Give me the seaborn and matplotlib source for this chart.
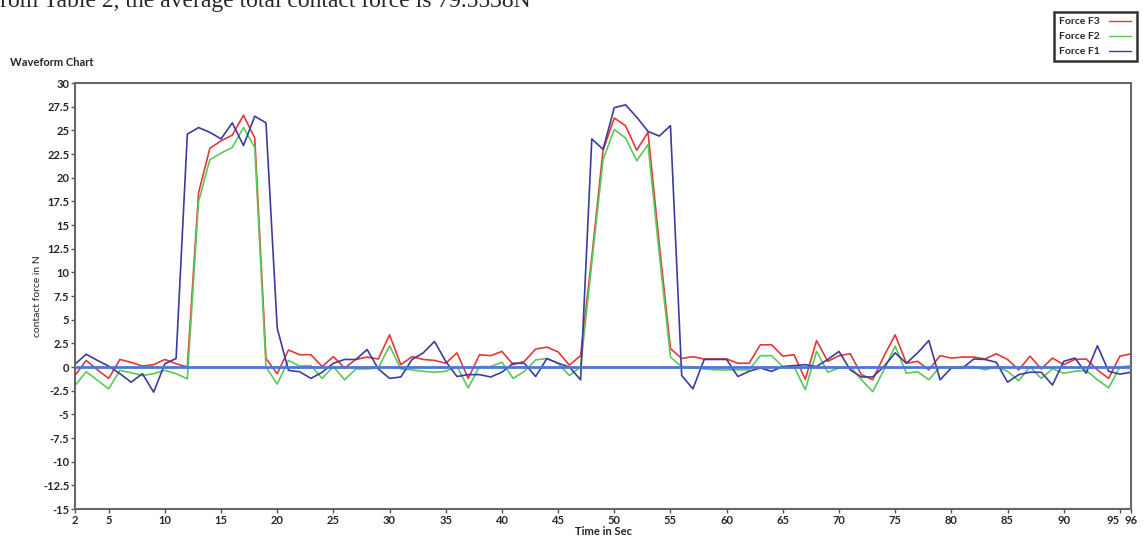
import numpy as np
import pandas as pd
import matplotlib.pyplot as plt
import seaborn as sns

# sample times (s)
time_sec = list(range(2, 97))

force_f3 = [-0.9, 0.7, -0.3, -1.2, 0.8, 0.5, 0.1, 0.25, 0.8, 0.35,
            0.0, 18.4, 23.1, 23.9, 24.5, 26.6, 24.2, 0.9, -0.7, 1.8,
            1.3, 1.3, 0.05, 1.1, -0.1, 0.8, 1.05, 0.85, 3.4, 0.25,
            1.1, 0.8, 0.7, 0.4, 1.5, -1.2, 1.3, 1.2, 1.65, 0.25,
            0.6, 1.9, 2.1, 1.6, 0.2, 1.2, 11.6, 22.9, 26.3, 25.5,
            22.9, 24.8, 13.0, 1.95, 0.9, 1.1, 0.85, 0.85, 0.85, 0.4,
            0.4, 2.35, 2.35, 1.15, 1.3, -1.3, 2.8, 0.6, 1.2, 1.4,
            -0.8, -1.35, 1.15, 3.4, 0.4, 0.6, -0.3, 1.2, 0.95, 1.05,
            1.05, 0.85, 1.4, 0.8, -0.3, 1.15, -0.2, 0.95, 0.25, 0.8,
            0.85, -0.3, -1.2, 1.15, 1.4]

force_f2 = [-1.95, -0.5, -1.4, -2.3, -0.35, -0.6, -0.9, -0.7, -0.35, -0.7,
            -1.25, 17.5, 21.9, 22.6, 23.2, 25.3, 23.2, 0.0, -1.8, 0.7,
            0.1, 0.15, -1.2, 0.05, -1.35, -0.2, -0.2, -0.1, 2.25, -0.2,
            -0.3, -0.45, -0.55, -0.45, 0.05, -2.2, 0.05, 0.05, 0.5, -1.2,
            -0.45, 0.75, 0.9, 0.4, -0.9, 0.0, 11.0, 21.9, 25.1, 24.2,
            21.8, 23.5, 12.0, 1.05, 0.05, -0.05, -0.2, -0.3, -0.3, -0.3,
            -0.3, 1.2, 1.2, 0.05, 0.05, -2.4, 1.65, -0.55, -0.1, 0.05,
            -1.35, -2.6, -0.3, 2.2, -0.65, -0.5, -1.35, 0.05, -0.1, 0.05,
            0.05, -0.3, 0.05, -0.45, -1.45, 0.05, -1.2, -0.2, -0.65, -0.45,
            -0.35, -1.35, -2.2, 0.0, 0.15]

force_f1 = [0.3, 1.35, 0.7, 0.1, -0.7, -1.6, -0.7, -2.65, 0.35, 0.9,
            24.6, 25.3, 24.8, 24.1, 25.8, 23.4, 26.5, 25.8, 4.1, -0.35,
            -0.5, -1.2, -0.55, 0.4, 0.8, 0.8, 1.85, -0.2, -1.2, -1.05,
            0.8, 1.5, 2.7, 0.6, -1.0, -0.8, -0.8, -1.05, -0.55, 0.4,
            0.4, -1.0, 0.9, 0.4, 0.0, -1.35, 24.1, 23.0, 27.4, 27.7,
            26.4, 24.9, 24.4, 25.5, -0.9, -2.3, 0.8, 0.8, 0.8, -1.0,
            -0.45, -0.1, -0.45, 0.05, 0.15, 0.25, 0.05, 0.8, 1.65, -0.3,
            -1.05, -1.05, 0.05, 1.5, 0.4, 1.5, 2.8, -1.35, -0.1, -0.1,
            0.85, 0.8, 0.5, -1.6, -0.8, -0.55, -0.55, -1.9, 0.6, 0.95,
            -0.65, 2.25, -0.45, -0.75, -0.55]

baseline = 0.0
y_ticks = [30, 27.5, 25, 22.5, 20, 17.5, 15, 12.5, 10, 7.5, 5, 2.5, 0,
           -2.5, -5, -7.5, -10, -12.5, -15]
x_ticks = [2, 5, 10, 15, 20, 25, 30, 35, 40, 45, 50, 55, 60, 65, 70, 75,
           80, 85, 90, 95, 96]

df = pd.DataFrame({
    "Time": time_sec * 3,
    "Force": force_f3 + force_f2 + force_f1,
    "Series": ["Force F3"] * len(time_sec) + ["Force F2"] * len(time_sec)
              + ["Force F1"] * len(time_sec),
})

sns.set_style("ticks")
plt.rcParams['font.family'] = ['Lato', 'DejaVu Sans']

fig = plt.figure(figsize=(11.43, 5.44), dpi=100)
ax = fig.add_axes([0.0656, 0.0643, 0.924, 0.783])

palette = {"Force F3": "#e23838", "Force F2": "#5cc85a", "Force F1": "#3a3d9c"}
sns.lineplot(data=df, x="Time", y="Force", hue="Series", palette=palette,
             linewidth=1.2, ax=ax, legend=False)
ax.axhline(baseline, color="#4a78d2", linewidth=2, zorder=5)

ax.set_xlim(2, 96)
ax.set_ylim(-15, 30)
ax.set_yticks(y_ticks)
ax.set_yticklabels([f"{v:g}" for v in y_ticks])
ax.set_xticks(x_ticks)
ax.tick_params(axis="both", direction="out", length=3, width=1, labelsize=8,
               pad=1, color="#555555")
for lab in ax.get_xticklabels() + ax.get_yticklabels():
    lab.set_fontweight("bold")
# keep "95" clear of the end label "96"
ax.get_xticklabels()[-2].set_horizontalalignment("right")
for sp in ax.spines.values():
    sp.set_visible(True)
    sp.set_color("#666666")
    sp.set_linewidth(1.5)

ax.set_xlabel("Time in Sec", fontsize=8, fontweight="bold", labelpad=0)
ax.set_ylabel("contact force in N", fontsize=7.5, labelpad=1)

fig.text(0.009, 0.885, "Waveform Chart", fontsize=8, fontweight="bold",
         ha="left", va="center")
fig.text(-0.011, 0.987, "From Table 2, the average total contact force is 79.5538N",
         fontsize=17, family="Liberation Serif", ha="left", va="baseline")

handles = [plt.Line2D([], [], color=palette[s], linewidth=1.0)
           for s in ["Force F3", "Force F2", "Force F1"]]
leg = fig.legend(handles, ["Force F3", "Force F2", "Force F1"],
                 loc="upper right", bbox_to_anchor=(0.999, 0.988),
                 markerfirst=False, handlelength=2.2, fontsize=7.5,
                 frameon=True, fancybox=False, borderpad=0.5,
                 labelspacing=0.55, handletextpad=0.8)
leg.get_frame().set_edgecolor("black")
leg.get_frame().set_linewidth(1.8)
for t in leg.get_texts():
    t.set_fontweight("bold")

fig.savefig("out.png", dpi=100)
